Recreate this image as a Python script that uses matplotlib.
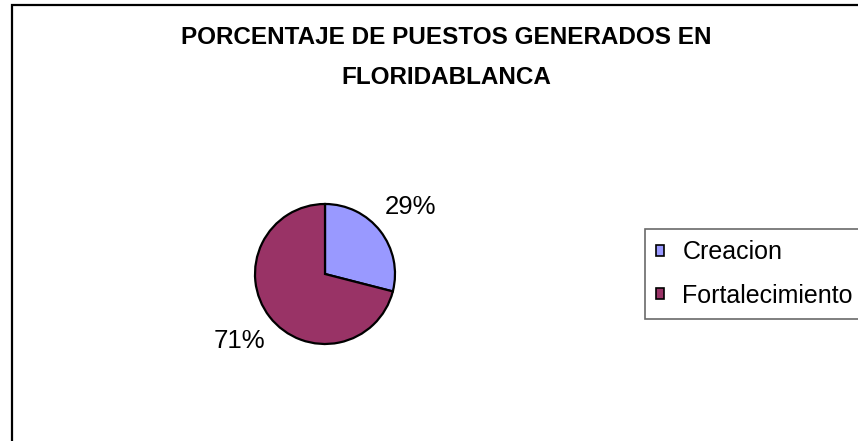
import matplotlib
matplotlib.use("Agg")
import matplotlib.pyplot as plt
from matplotlib.patches import Rectangle

categories = ["Creacion", "Fortalecimiento"]
values = [29, 71]
colors = ["#9999FF", "#993366"]
title_lines = ["PORCENTAJE DE PUESTOS GENERADOS EN", "FLORIDABLANCA"]

W, H = 858, 441
plt.rcParams['font.family'] = ['Liberation Sans', 'DejaVu Sans']
fig = plt.figure(figsize=(W / 100, H / 100), dpi=100)

# outer chart border (extends beyond right/bottom of image)
fig.patches.append(Rectangle((12 / W, -0.1), 1.2, (H - 5) / H + 0.1,
                             transform=fig.transFigure, fill=False,
                             edgecolor="black", linewidth=1.6, clip_on=False))

cx, cy, r = 325, 274, 70
ax = fig.add_axes([(cx - r) / W, (H - cy - r) / H, 2 * r / W, 2 * r / H])
wedges, texts, autotexts = ax.pie(
    values, colors=colors, startangle=90, counterclock=False,
    autopct=lambda p: f"{p:.0f}%", pctdistance=1.55,
    wedgeprops=dict(edgecolor="black", linewidth=1.6),
    textprops=dict(fontsize=18.5, color="black"))
ax.set_aspect("equal")
ax.set_xlim(-1, 1)
ax.set_ylim(-1, 1)
for t in autotexts:
    t.set_clip_on(False)

for i, line in enumerate(title_lines):
    fig.text(446 / W, 1 - (37 + 40 * i) / H, line, ha="center", va="center",
             fontsize=17.5, fontweight="bold")

leg = fig.legend(wedges, categories, loc="upper left",
                 bbox_to_anchor=(645 / W, 1 - 229 / H),
                 frameon=True, fancybox=False, edgecolor="#444444",
                 fontsize=18, handlelength=0.32, handleheight=0.32,
                 handletextpad=0.72, labelspacing=0.78, borderpad=0.45,
                 borderaxespad=0)
leg.get_frame().set_linewidth(1.2)
for h in leg.legend_handles:
    h.set_linewidth(1.2)
    h.set_edgecolor("black")

fig.savefig("out.png", dpi=100)
